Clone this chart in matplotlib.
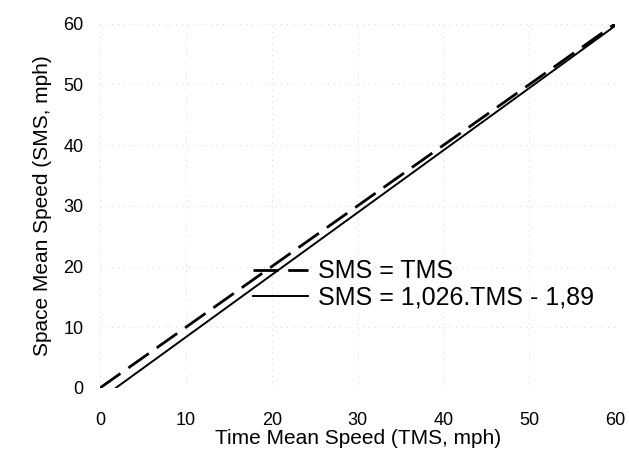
import matplotlib
matplotlib.use("Agg")
import matplotlib.pyplot as plt
import numpy as np

# data
tms = [0, 60]
sms_equal = [0, 60]
slope = 1.026
intercept = -1.89
x_ticks = [0, 10, 20, 30, 40, 50, 60]
y_ticks = [0, 10, 20, 30, 40, 50, 60]

plt.rcParams['font.family'] = ['Liberation Sans', 'DejaVu Sans']

fig = plt.figure(figsize=(6.29, 4.49), dpi=100, facecolor='white')
ax = fig.add_axes([0.159, 0.136, 0.819, 0.811])

x0 = -intercept / slope
xs = np.array([x0, tms[1]])
ys = slope * xs + intercept

ax.plot(tms, sms_equal, color='black', lw=2.0, dashes=(9, 3.5),
        label='SMS = TMS')
ax.plot(xs, ys, color='black', lw=1.4, label='SMS = 1,026.TMS - 1,89')

ax.set_xlim(0, 60)
ax.set_ylim(0, 60)
ax.set_xticks(x_ticks)
ax.set_yticks(y_ticks)
ax.tick_params(length=0, labelsize=13)
ax.tick_params(axis='x', pad=17)
ax.tick_params(axis='y', pad=12)
for s in ax.spines.values():
    s.set_visible(False)
ax.grid(True, color='0.78', lw=0.6, ls=(0, (1, 6)))
ax.set_axisbelow(True)

ax.set_xlabel('Time Mean Speed (TMS, mph)', fontsize=15, labelpad=0)
ax.set_ylabel('Space Mean Speed (SMS, mph)', fontsize=15, labelpad=8)

ax.legend(loc='center left', bbox_to_anchor=(0.297, 0.284), frameon=False,
          fontsize=18, handlelength=2.2, handletextpad=0.4, labelspacing=0.1,
          borderpad=0, borderaxespad=0)

fig.savefig('out.png', dpi=100, facecolor='white')
